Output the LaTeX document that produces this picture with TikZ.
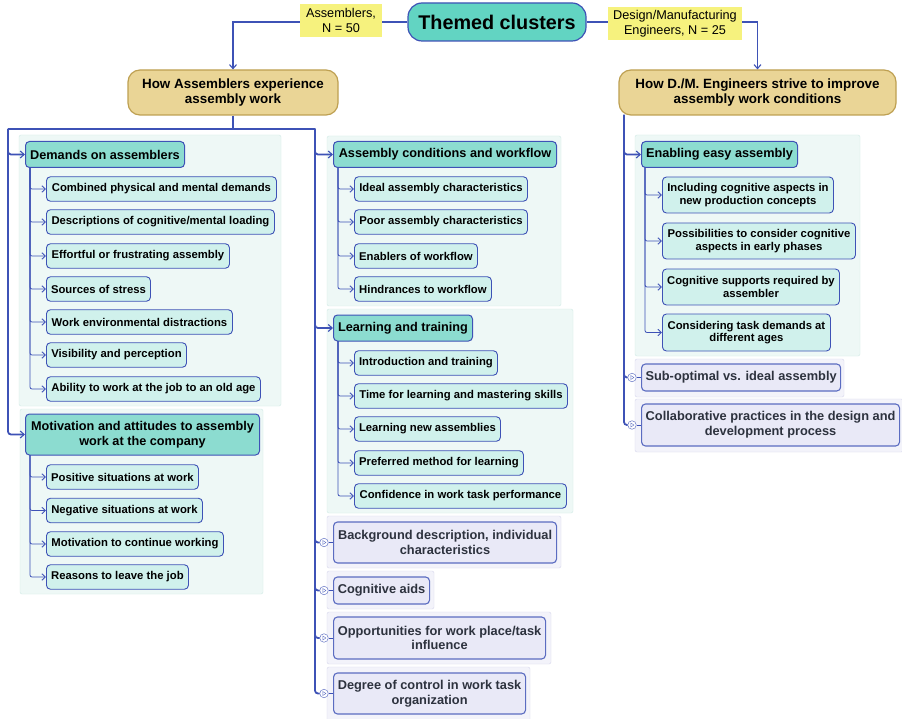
\documentclass[tikz,border=0pt]{standalone}
\usepackage{fontspec}
\setmainfont{Liberation Sans}
\usetikzlibrary{arrows.meta}
\definecolor{linec}{RGB}{62,82,182}
\definecolor{rootfill}{RGB}{98,212,194}
\definecolor{howfill}{RGB}{234,213,150}
\definecolor{howline}{RGB}{190,160,82}
\definecolor{catfill}{RGB}{140,220,208}
\definecolor{itemfill}{RGB}{208,241,236}
\definecolor{grpfill}{RGB}{238,248,246}
\definecolor{grpline}{RGB}{210,235,230}
\definecolor{lavfill}{RGB}{233,233,247}
\definecolor{lavgrp}{RGB}{243,243,250}
\definecolor{lavline}{RGB}{214,214,236}
\definecolor{lavtext}{RGB}{45,50,62}
\definecolor{tagfill}{RGB}{246,242,126}
\begin{document}
\begin{tikzpicture}[x=1pt,y=-1pt,
  root/.style={draw=linec,fill=rootfill,line width=1.2pt,rounded corners=14pt,minimum width=178,minimum height=38,font=\fontsize{19.8}{22}\selectfont\bfseries},
  howbox/.style={draw=howline,fill=howfill,line width=1.2pt,rounded corners=12pt,minimum height=45,align=center,font=\fontsize{13.4}{15.5}\selectfont\bfseries},
  tag/.style={fill=tagfill,minimum height=33,align=center,inner sep=2pt,font=\fontsize{12.7}{14.5}\selectfont},
  cat/.style={anchor=west,draw=linec,fill=catfill,line width=1pt,rounded corners=4pt,minimum height=26,inner xsep=4pt,align=center,font=\fontsize{12.7}{15}\selectfont\bfseries},
  item/.style={anchor=west,draw=linec,fill=itemfill,line width=0.9pt,rounded corners=4pt,minimum height=24.5,inner xsep=4pt,align=center,font=\fontsize{11.3}{12.6}\selectfont\bfseries},
  lav/.style={anchor=west,draw=linec!85,fill=lavfill,line width=1.1pt,rounded corners=4pt,minimum height=27,inner xsep=4pt,align=center,text=lavtext,font=\fontsize{12.8}{14.8}\selectfont\bfseries},
  grp/.style={fill=grpfill,draw=grpline,rounded corners=2pt},
  lavgrp/.style={fill=lavgrp,draw=lavline,rounded corners=2pt},
  foldmark/.style={circle,draw=linec!80,fill=white,line width=0.5pt,minimum size=8.5,inner sep=0pt,
    path picture={\draw[linec!80,line width=0.4pt] ([xshift=-1.2pt,yshift=2pt]path picture bounding box.center) -- ++(3.2pt,-2pt) -- ++(-3.2pt,-2pt) -- cycle;}},
  trunk/.style={draw=linec,line width=1.8pt,rounded corners=3pt},
  trunkarrow/.style={trunk,-{Straight Barb[length=4pt,width=7pt,line width=1.1pt]}},
  twig/.style={draw=linec,line width=0.8pt,rounded corners=2pt,-{Straight Barb[length=3.5pt,width=6.5pt,line width=0.9pt]}}]
\fill[white] (0,0) rectangle (902,719);
\useasboundingbox (0,0) rectangle (902,719);
\filldraw[grp] (19,135) rectangle (281,406);
\filldraw[grp] (20,409) rectangle (263,594);
\filldraw[grp] (327,136) rectangle (561,306);
\filldraw[grp] (327,309) rectangle (573,513);
\filldraw[lavgrp] (327,516) rectangle (561,568);
\filldraw[lavgrp] (327,571) rectangle (434,609);
\filldraw[lavgrp] (327,612) rectangle (551,664);
\filldraw[lavgrp] (327,667) rectangle (530,722);
\filldraw[grp] (635,135) rectangle (860,356);
\filldraw[lavgrp] (635,359) rectangle (844,397);
\filldraw[lavgrp] (635,399) rectangle (903,452);

\node[root] (root) at (497,22) {Themed clusters};
\node[howbox,minimum width=210] (howA) at (233,92.5) {How Assemblers experience\\assembly work};
\node[howbox,minimum width=277] (howE) at (757.5,92.5) {How D./M. Engineers strive to improve\\assembly work conditions};

\node[cat,minimum width=159] (dem) at (25,154.5) {Demands on assemblers};
\node[item,minimum width=230] (d1) at (46,189) {Combined physical and mental demands};
\node[item,minimum width=228] (d2) at (46,222) {Descriptions of cognitive/mental loading};
\node[item,minimum width=183] (d3) at (46,256) {Effortful or frustrating assembly};
\node[item,minimum width=104] (d4) at (46,289) {Sources of stress};
\node[item,minimum width=186] (d5) at (46,322) {Work environmental distractions};
\node[item,minimum width=140] (d6) at (46,355) {Visibility and perception};
\node[item,minimum width=214] (d7) at (46,389) {Ability to work at the job to an old age};

\node[cat,minimum width=234,minimum height=41] (mot) at (25,434.5) {Motivation and attitudes to assembly\\work at the company};
\node[item,minimum width=152] (m1) at (46,477) {Positive situations at work};
\node[item,minimum width=156] (m2) at (46,510.5) {Negative situations at work};
\node[item,minimum width=177] (m3) at (46,544) {Motivation to continue working};
\node[item,minimum width=142] (m4) at (46,577) {Reasons to leave the job};

\node[cat,minimum width=223] (acw) at (333,154.5) {Assembly conditions and workflow};
\node[item,minimum width=173] (a1) at (354,189) {Ideal assembly characteristics};
\node[item,minimum width=173] (a2) at (354,222) {Poor assembly characteristics};
\node[item,minimum width=123] (a3) at (354,256) {Enablers of workflow};
\node[item,minimum width=137] (a4) at (354,289) {Hindrances to workflow};

\node[cat,minimum width=139] (ltr) at (333,328) {Learning and training};
\node[item,minimum width=143] (l1) at (354,363) {Introduction and training};
\node[item,minimum width=213] (l2) at (354,396) {Time for learning and mastering skills};
\node[item,minimum width=146] (l3) at (354,429) {Learning new assemblies};
\node[item,minimum width=169] (l4) at (354,463) {Preferred method for learning};
\node[item,minimum width=212] (l5) at (354,496) {Confidence in work task performance};

\node[lav,minimum width=223,minimum height=41] (bgd) at (333,542.5) {Background description, individual\\characteristics};
\node[lav,minimum width=96] (cga) at (333,590.5) {Cognitive aids};
\node[lav,minimum width=212,minimum height=42] (opp) at (333,638) {Opportunities for work place/task\\influence};
\node[lav,minimum width=192,minimum height=41] (doc) at (333,693.5) {Degree of control in work task\\organization};

\node[cat,minimum width=156] (eea) at (641,154.5) {Enabling easy assembly};
\node[item,minimum width=171,minimum height=36] (e1) at (662,195) {Including cognitive aspects in\\new production concepts};
\node[item,minimum width=193,minimum height=36] (e2) at (662,241) {Possibilities to consider cognitive\\aspects in early phases};
\node[item,minimum width=177,minimum height=36] (e3) at (662,287) {Cognitive supports required by\\assembler};
\node[item,minimum width=168,minimum height=37] (e4) at (662,332.5) {Considering task demands at\\different ages};

\node[lav,minimum width=198] (sub) at (641,377.5) {Sub-optimal vs. ideal assembly};
\node[lav,minimum width=258,minimum height=42] (col) at (641,425) {Collaborative practices in the design and\\development process};

\node[foldmark] (fk1) at (324,542.5) {};
\node[foldmark] (fk2) at (324,590.5) {};
\node[foldmark] (fk3) at (324,638) {};
\node[foldmark] (fk4) at (324,693.5) {};
\node[foldmark] (fr1) at (632,377.5) {};
\node[foldmark] (fr2) at (632,425) {};

\coordinate (lsp) at (8,129);
\coordinate (msp) at (315,129);
\coordinate (rsp) at (624,115);
\coordinate (demS) at (30,167.5);
\coordinate (motS) at (30,455);
\coordinate (acwS) at (338,167.5);
\coordinate (ltrS) at (338,341);
\coordinate (eeaS) at (645,167.5);

\draw[trunkarrow,rounded corners=0pt] (root.west) -| (howA.north);
\draw[trunkarrow,rounded corners=0pt] (root.east) -| (howE.north);
\draw[trunk] (howA.south) -- (howA.south |- lsp);
\draw[trunk] (lsp) -- (msp);
\draw[trunkarrow] (lsp) |- (dem.west);
\draw[trunkarrow] (lsp) |- (mot.west);
\draw[trunkarrow] (msp) |- (acw.west);
\draw[trunkarrow] (msp) |- (ltr.west);
\draw[trunkarrow] (rsp) |- (eea.west);
\foreach \f/\b in {fk1/bgd,fk2/cga,fk3/opp,fk4/doc}{
  \draw[trunk] (msp) |- (\f.west);
  \draw[linec,line width=0.8pt] (\f.east) -- (\b.west);
}
\foreach \f/\b in {fr1/sub,fr2/col}{
  \draw[trunk] (rsp) |- (\f.west);
  \draw[linec,line width=0.8pt] (\f.east) -- (\b.west);
}
\foreach \c in {d1,d2,d3,d4,d5,d6,d7} \draw[twig] (demS) |- (\c.west);
\foreach \c in {m1,m2,m3,m4} \draw[twig] (motS) |- (\c.west);
\foreach \c in {a1,a2,a3,a4} \draw[twig] (acwS) |- (\c.west);
\foreach \c in {l1,l2,l3,l4,l5} \draw[twig] (ltrS) |- (\c.west);
\foreach \c in {e1,e2,e3,e4} \draw[twig] (eeaS) |- (\c.west);

\node[tag,minimum width=82] (tagA) at (341,20.5) {Assemblers,\\N = 50};
\node[tag,minimum width=134] (tagE) at (675,23.5) {Design/Manufacturing\\Engineers, N = 25};
\end{tikzpicture}
\end{document}
